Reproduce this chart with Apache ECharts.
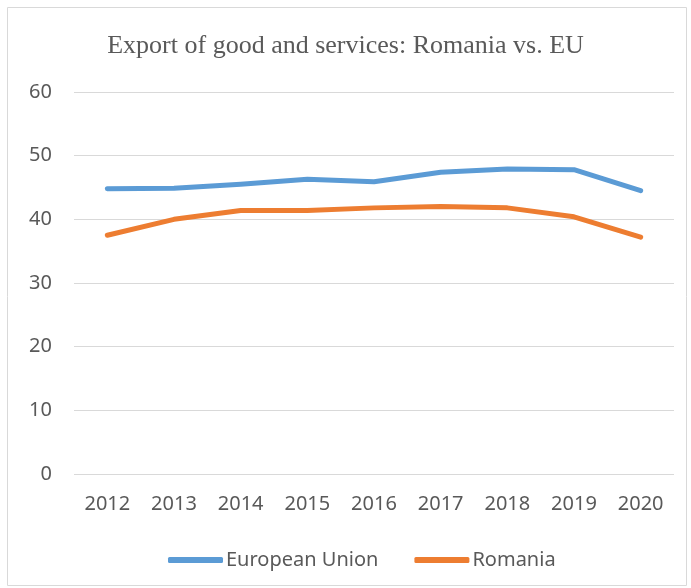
<!DOCTYPE html>
<html><head><meta charset="utf-8">
<script src="https://cdn.jsdelivr.net/npm/echarts@6/dist/echarts.min.js"></script>
<style>html,body{margin:0;padding:0;background:#fff}#c{width:691px;height:588px}</style>
</head><body><div id="c"></div>
<script>
const years = ['2012','2013','2014','2015','2016','2017','2018','2019','2020'];
const euValues = [44.8, 44.9, 45.5, 46.3, 45.9, 47.4, 47.9, 47.8, 44.5];
const roValues = [37.5, 40.0, 41.4, 41.4, 41.8, 42.0, 41.8, 40.4, 37.2];
const yTicks = [0, 10, 20, 30, 40, 50, 60];
const seriesNames = ['European Union', 'Romania'];

const chart = echarts.init(document.getElementById('c'), null, {renderer: 'canvas'});
const lab = {color: '#595959', fontFamily: 'Noto Sans', fontSize: 20};
chart.setOption({
  animation: false,
  graphic: [{type: 'rect', shape: {x: 7.5, y: 7.5, width: 679, height: 578}, style: {fill: 'none', stroke: '#d9d9d9', lineWidth: 1}}],
  title: {text: 'Export of good and services: Romania vs. EU', left: 'center', top: 28,
    textStyle: {fontFamily: 'Liberation Serif', fontWeight: 'normal', fontSize: 26, color: '#595959'}},
  legend: {top: 545, left: 163, itemWidth: 55, itemHeight: 6, itemGap: 36, icon: 'roundRect',
    textStyle: {color: '#595959', fontFamily: 'Noto Sans', fontSize: 20, padding: [0,0,0,-2]}, data: seriesNames},
  grid: {left: 74, right: 17, top: 92, bottom: 114, containLabel: false},
  xAxis: {type: 'category', data: years, boundaryGap: true,
    axisLine: {show: false}, axisTick: {show: false},
    axisLabel: Object.assign({margin: 20}, lab)},
  yAxis: {type: 'value', min: yTicks[0], max: yTicks[yTicks.length-1], interval: 10,
    axisLine: {show: false}, axisTick: {show: false},
    axisLabel: Object.assign({margin: 22}, lab),
    splitLine: {lineStyle: {color: '#d9d9d9', width: 1}}},
  series: [
    {name: seriesNames[0], type: 'line', data: euValues, symbol: 'none',
      lineStyle: {color: '#5b9bd5', width: 5, cap: 'round', join: 'round'}, itemStyle: {color: '#5b9bd5'}},
    {name: seriesNames[1], type: 'line', data: roValues, symbol: 'none',
      lineStyle: {color: '#ed7d31', width: 5, cap: 'round', join: 'round'}, itemStyle: {color: '#ed7d31'}}
  ]
});
</script></body></html>
